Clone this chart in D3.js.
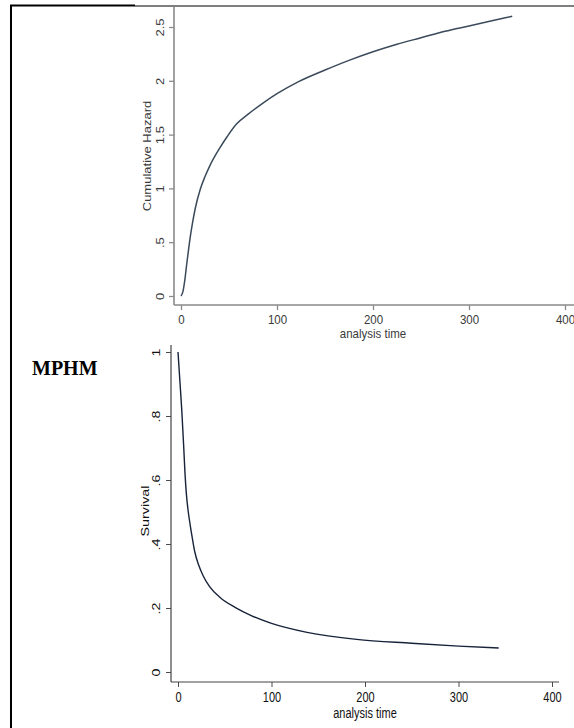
<!DOCTYPE html>
<html>
<head>
<meta charset="utf-8">
<script src="https://cdn.jsdelivr.net/npm/d3@7"></script>
<style>
  html, body { margin: 0; padding: 0; background: #fff; }
  svg { display: block; }
</style>
</head>
<body>
<svg id="chart"></svg>
<script>
const width = 574;
const height = 728;

// Cumulative hazard curve (top panel)
const hazTime  = [0, 2, 4, 6, 8, 10, 12, 15, 20, 25, 30, 40, 48, 58, 70, 85, 100, 122, 150, 175, 200, 225, 250, 275, 300, 325, 345];
const hazValue = [0, 0.04, 0.15, 0.3, 0.44, 0.57, 0.68, 0.82, 0.99, 1.11, 1.21, 1.37, 1.48, 1.6, 1.69, 1.79, 1.88, 1.99, 2.1, 2.19, 2.27, 2.34, 2.4, 2.46, 2.51, 2.56, 2.6];

// Survival curve (bottom panel)
const survTime  = [0, 2, 4, 6, 7.5, 9, 11, 13, 15.5, 18, 22, 27, 34, 45, 61, 80, 100, 138, 191, 250, 300, 343];
const survValue = [1, 0.91, 0.82, 0.71, 0.62, 0.555, 0.5, 0.46, 0.415, 0.375, 0.335, 0.3, 0.266, 0.233, 0.202, 0.174, 0.152, 0.124, 0.102, 0.09, 0.081, 0.075];

// Tick values / labels
const timeTicks = [0, 100, 200, 300, 400];
const hazTicks = [0, 0.5, 1, 1.5, 2, 2.5];
const hazTickLabels = ["0", ".5", "1", "1.5", "2", "2.5"];
const survTicks = [0, 0.2, 0.4, 0.6, 0.8, 1];
const survTickLabels = ["0", ".2", ".4", ".6", ".8", "1"];

const svg = d3.select("#chart")
  .attr("width", width)
  .attr("height", height);

// Frame lines of the surrounding table
svg.append("line").attr("x1", 11).attr("x2", 11).attr("y1", 5).attr("y2", height)
  .attr("stroke", "#000").attr("stroke-width", 2);
svg.append("line").attr("x1", 10).attr("x2", 135).attr("y1", 5.5).attr("y2", 5.5)
  .attr("stroke", "#000").attr("stroke-width", 2);
svg.append("line").attr("x1", 135).attr("x2", width).attr("y1", 6).attr("y2", 6)
  .attr("stroke", "#000").attr("stroke-width", 1);

svg.append("text")
  .attr("x", 32)
  .attr("y", 375)
  .attr("font-family", "'Liberation Serif', 'Times New Roman', serif")
  .attr("font-weight", "bold")
  .attr("font-size", 20)
  .attr("fill", "#000")
  .text("MPHM");

// Draw one Stata-like panel
function drawPanel(cfg) {
  const g = svg.append("g");
  const x = d3.scaleLinear().domain([0, 400]).range(cfg.xRange);
  const y = d3.scaleLinear().domain(cfg.yDomain).range(cfg.yRange);
  const font = "'Liberation Sans', Arial, sans-serif";

  // axis lines
  g.append("line")
    .attr("x1", cfg.axisX).attr("x2", cfg.axisX)
    .attr("y1", cfg.axisTop).attr("y2", cfg.axisY)
    .attr("stroke", cfg.axisColor).attr("stroke-width", cfg.axisWidth);
  g.append("line")
    .attr("x1", cfg.axisX).attr("x2", cfg.axisRight)
    .attr("y1", cfg.axisY).attr("y2", cfg.axisY)
    .attr("stroke", cfg.axisColor).attr("stroke-width", cfg.axisWidth);

  // x axis
  const xAxis = g.append("g")
    .attr("transform", `translate(0, ${cfg.axisY})`)
    .call(d3.axisBottom(x).tickValues(timeTicks).tickSize(5).tickSizeOuter(0).tickFormat(d3.format("d")));
  xAxis.select(".domain").remove();
  xAxis.selectAll("line").attr("stroke", cfg.axisColor).attr("stroke-width", cfg.axisWidth * 0.8);
  xAxis.selectAll("text")
    .attr("y", 0).attr("dy", "0.71em")
    .attr("transform", `translate(0, ${cfg.xLabelOffset}) scale(1, ${cfg.sy})`)
    .attr("font-family", font).attr("font-size", cfg.fontSize).attr("fill", cfg.textColor);

  // y axis
  const yAxis = g.append("g")
    .attr("transform", `translate(${cfg.axisX}, 0)`)
    .call(d3.axisLeft(y).tickValues(cfg.yTicks).tickSize(5).tickSizeOuter(0)
      .tickFormat((d, i) => cfg.yTickLabels[i]));
  yAxis.select(".domain").remove();
  yAxis.selectAll("line").attr("stroke", cfg.axisColor).attr("stroke-width", cfg.axisWidth * 0.8);
  yAxis.selectAll("text")
    .attr("x", 0).attr("dy", "0.35em")
    .attr("text-anchor", "middle")
    .attr("transform", `translate(${-cfg.yLabelOffset}, 0) scale(1, ${cfg.sy}) rotate(-90)`)
    .attr("font-family", font).attr("font-size", cfg.fontSize).attr("fill", cfg.textColor);

  // axis titles
  g.append("text")
    .attr("text-anchor", "middle").attr("dy", "0.35em")
    .attr("transform", `translate(${(cfg.xRange[0] + cfg.xRange[1]) / 2}, ${cfg.xTitleY}) scale(1, ${cfg.sy})`)
    .attr("font-family", font).attr("font-size", cfg.fontSize).attr("fill", cfg.textColor)
    .text("analysis time");
  g.append("text")
    .attr("text-anchor", "middle").attr("dy", "0.35em")
    .attr("transform", `translate(${cfg.yTitleX}, ${cfg.yTitleY}) scale(1, ${cfg.sy}) rotate(-90)`)
    .attr("font-family", font).attr("font-size", cfg.titleSize).attr("fill", cfg.textColor)
    .text(cfg.yTitle);

  // curve
  const line = d3.line()
    .x((d, i) => x(cfg.times[i]))
    .y(d => y(d))
    .curve(d3.curveMonotoneX);
  g.append("path")
    .datum(cfg.values)
    .attr("d", line)
    .attr("fill", "none")
    .attr("stroke", cfg.lineColor)
    .attr("stroke-width", cfg.lineWidth);
}

drawPanel({
  xRange: [181, 565], yDomain: [0, 2.5], yRange: [296, 27],
  axisX: 174, axisY: 305, axisTop: 7, axisRight: width,
  yTicks: hazTicks, yTickLabels: hazTickLabels,
  times: hazTime, values: hazValue,
  yTitle: "Cumulative Hazard", yTitleX: 147, yTitleY: 156,
  xTitleY: 333, xLabelOffset: 10, yLabelOffset: 14,
  fontSize: 11.5, titleSize: 11.5, sy: 1.13,
  axisColor: "#8a8a8a", axisWidth: 1.6, textColor: "#3a3a3a",
  lineColor: "#3b4a5a", lineWidth: 1.5
});

drawPanel({
  xRange: [178, 552], yDomain: [0, 1], yRange: [672, 352],
  axisX: 171, axisY: 682, axisTop: 345, axisRight: 559,
  yTicks: survTicks, yTickLabels: survTickLabels,
  times: survTime, values: survValue,
  yTitle: "Survival", yTitleX: 145, yTitleY: 511,
  xTitleY: 713, xLabelOffset: 10, yLabelOffset: 15,
  fontSize: 11, titleSize: 11, sy: 1.3,
  axisColor: "#444", axisWidth: 1.2, textColor: "#111",
  lineColor: "#17233a", lineWidth: 1.4
});
</script>
</body>
</html>
